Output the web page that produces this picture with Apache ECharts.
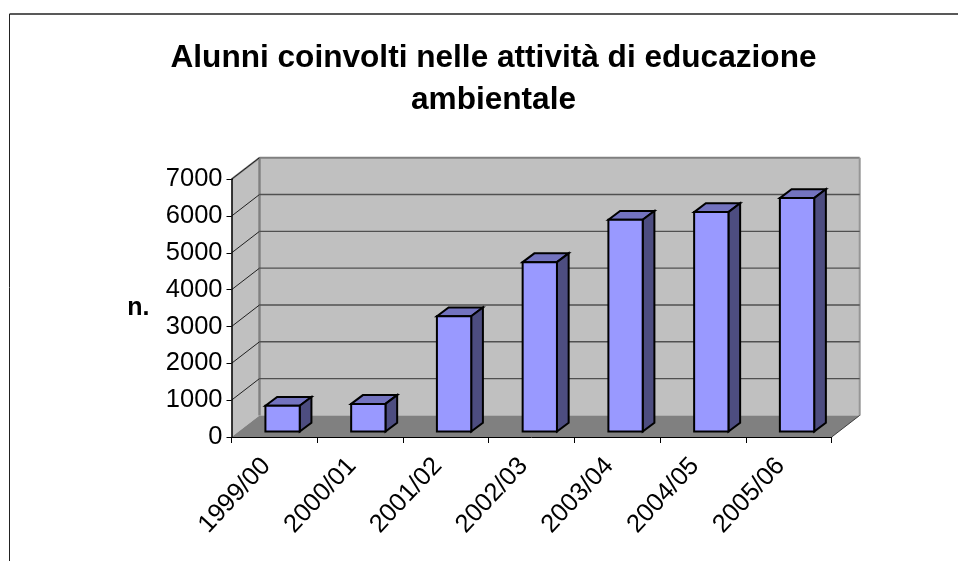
<!DOCTYPE html>
<html>
<head>
<meta charset="utf-8">
<style>html,body{margin:0;padding:0;background:#fff}#c{width:958px;height:561px}</style>
<script src="https://cdn.jsdelivr.net/npm/echarts@6/dist/echarts.min.js"></script>
</head>
<body>
<div id="c"></div>
<script>
var titleText = "Alunni coinvolti nelle attività di educazione\nambientale";
var yAxisName = "n.";
var categories = ["1999/00","2000/01","2001/02","2002/03","2003/04","2004/05","2005/06"];
var pupils = [700,750,3130,4600,5750,5960,6340];
var yTicks = [0,1000,2000,3000,4000,5000,6000,7000];

var FONT = '"Liberation Sans", Arial, sans-serif';
var DEPTH_X = 28, DEPTH_Y = 21.6;
var BAR_DX = 11.7, BAR_DY = 8.8, BAR_GAP_X = 8.2, BAR_GAP_Y = 5.5;

function poly(pts, fill, stroke, w){
  return {type:'polygon', shape:{points:pts}, style:{fill:fill, stroke:stroke||null, lineWidth:w||0, lineJoin:'miter'}, silent:true};
}
function seg(x1,y1,x2,y2,stroke,w){
  return {type:'line', shape:{x1:x1,y1:y1,x2:x2,y2:y2}, style:{stroke:stroke, lineWidth:w, fill:null}, silent:true};
}
function renderWalls(params, api){
  var c = params.coordSys, l=c.x, r=c.x+c.width, t=c.y, b=c.y+c.height;
  var dx=DEPTH_X, dy=DEPTH_Y;
  return {type:'group', children:[
    poly([[l+dx,t-dy],[r+dx,t-dy],[r+dx,b-dy],[l+dx,b-dy]],'#C0C0C0'),
    poly([[l,t],[l+dx,t-dy],[l+dx,b-dy],[l,b]],'#C0C0C0'),
    poly([[l,b],[l+dx,b-dy],[r+dx,b-dy],[r,b]],'#808080'),
    seg(l,t,l+dx,t-dy,'#808080',2),
    seg(l+dx,t-dy,r+dx,t-dy,'#808080',2),
    seg(l+dx,t-dy,l+dx,b-dy,'#808080',2.4),
    seg(r+dx,t-dy,r+dx,b-dy,'#969696',2),
    seg(r,b,r+dx,b-dy,'#404040',1)
  ]};
}
function renderGrid(params, api){
  var c = params.coordSys, l=c.x, r=c.x+c.width;
  var v = api.value(0), y = api.coord([0,v])[1];
  if(v===0) return {type:'group',children:[]};
  var kids = [seg(l,y,l+DEPTH_X,y-DEPTH_Y,'#202020',1)];
  if(v!==7000) kids.push(seg(l+DEPTH_X,y-DEPTH_Y,r+DEPTH_X,y-DEPTH_Y,'#505050',1.4));
  return {type:'group',children:kids};
}
function renderBar(params, api){
  var p = api.coord([api.value(0), api.value(1)]);
  var p0 = api.coord([api.value(0), 0]);
  var w = api.size([1,0])[0]/2.5;
  var x0 = p[0]-w/2+BAR_GAP_X, x1 = x0+w;
  var yt = p[1]-BAR_GAP_Y, yb = p0[1]-BAR_GAP_Y;
  var dx=BAR_DX, dy=BAR_DY;
  return {type:'group', children:[
    poly([[x0,yt],[x0+dx,yt-dy],[x1+dx,yt-dy],[x1,yt]],'#7373BF','#000',2),
    poly([[x1,yt],[x1+dx,yt-dy],[x1+dx,yb-dy],[x1,yb]],'#4D4D80','#000',2),
    poly([[x0,yt],[x1,yt],[x1,yb],[x0,yb]],'#9999FF','#000',2)
  ]};
}
var chart = echarts.init(document.getElementById('c'), null, {renderer:'canvas'});
chart.setOption({
  animation:false,
  backgroundColor:'#fff',
  title:{
    text:titleText, left:488.5, top:32, textAlign:'center',
    textStyle:{fontFamily:FONT,fontWeight:'bold',fontSize:31.6,color:'#000',lineHeight:42}
  },
  grid:{left:231.5, top:179.3, width:600.2, height:257.7, containLabel:false},
  xAxis:{
    type:'category', data:categories, z:10,
    axisLine:{show:true,lineStyle:{color:'#000',width:1}},
    axisTick:{show:true,alignWithLabel:false,length:6,lineStyle:{color:'#000',width:1}},
    axisLabel:{rotate:47,margin:16,padding:[0,12,0,0],fontFamily:FONT,fontSize:25.5,color:'#000',interval:0},
    splitLine:{show:false}
  },
  yAxis:{
    type:'value', min:0, max:7000, interval:1000, z:10,
    name:yAxisName, nameLocation:'middle', nameRotate:0, nameGap:82,
    nameTextStyle:{fontFamily:FONT,fontWeight:'bold',fontSize:25,color:'#000'},
    axisLine:{show:true,lineStyle:{color:'#000',width:1.5}},
    axisTick:{show:true,length:5,lineStyle:{color:'#000',width:1}},
    axisLabel:{margin:9,fontFamily:FONT,fontSize:25.5,color:'#000',formatter:function(v){return String(v);}},
    splitLine:{show:false}
  },
  graphic:[
    {type:'line',shape:{x1:9.5,y1:14,x2:958,y2:14},style:{stroke:'#222',lineWidth:1.5},silent:true},
    {type:'line',shape:{x1:9.5,y1:14,x2:9.5,y2:561},style:{stroke:'#222',lineWidth:1},silent:true}
  ],
  series:[
    {type:'custom',name:'walls',coordinateSystem:'cartesian2d',z:1,silent:true,data:[[0,0]],renderItem:renderWalls,encode:{x:0,y:1}},
    {type:'custom',name:'grid',coordinateSystem:'cartesian2d',z:2,silent:true,data:yTicks.map(function(v){return [v];}),renderItem:renderGrid,encode:{y:0}},
    {type:'custom',name:'Alunni',coordinateSystem:'cartesian2d',z:3,silent:true,data:pupils.map(function(v,i){return [i,v];}),renderItem:renderBar,encode:{x:0,y:1}}
  ]
});
</script>
</body>
</html>
